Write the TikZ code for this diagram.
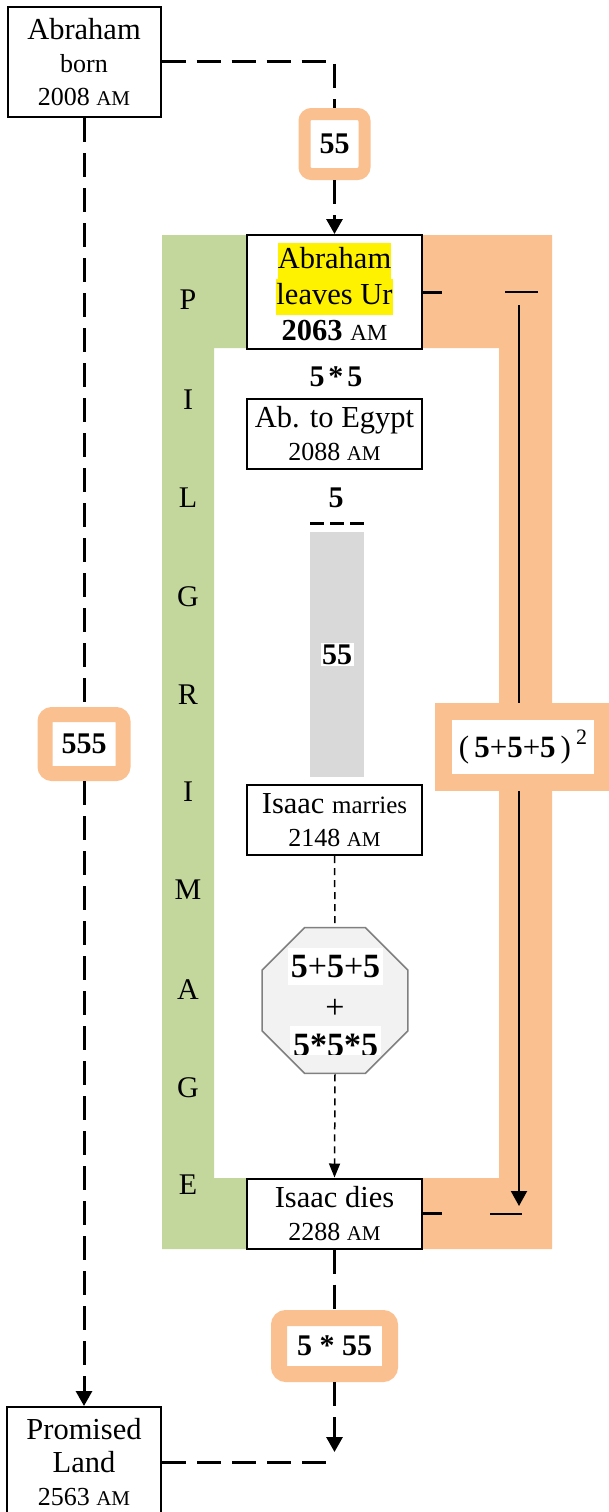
\documentclass[tikz,border=0pt]{standalone}
\usepackage{fontspec}
\setmainfont{Liberation Serif}
\usetikzlibrary{arrows.meta,shapes.geometric}
\definecolor{pgreen}{HTML}{C3D69B}
\definecolor{porange}{HTML}{FAC090}
\definecolor{pgrey}{HTML}{D9D9D9}
\definecolor{octfill}{HTML}{F2F2F2}
\definecolor{octline}{HTML}{808080}
\newcommand\amsc{{\fontsize{21}{21}\selectfont AM}}
\newcommand\subl[1]{{\fontsize{26}{26}\selectfont #1}}
\newcommand\hlyel[1]{{\setlength{\fboxsep}{0pt}\colorbox{yellow}{\strut #1}}}
\begin{document}
\begin{tikzpicture}[x=1pt,y=-1pt,
  evbox/.style={draw, line width=2pt, fill=white, inner sep=0pt, minimum width=175pt, minimum height=70pt, align=center, font=\fontsize{30.5}{33}\selectfont},
  lbl/.style={font=\fontsize{30}{33}\selectfont\bfseries, inner sep=0pt},
  obox/.style={draw=porange, line width=#1, fill=white, rounded corners=7pt, inner sep=0pt, font=\fontsize{30}{33}\selectfont\bfseries},
  thickdash/.style={line width=3pt, dash pattern=on 24pt off 11pt},
  thindash/.style={line width=1.5pt, dash pattern=on 7pt off 5pt},
  bigtip/.style={-{Triangle[width=16pt,length=15pt]}},
  smalltip/.style={-{Triangle[width=11pt,length=14pt]}},
  letter/.style={font=\fontsize{30}{33}\selectfont, inner sep=0pt},
]
\useasboundingbox (0,0) rectangle (608,1512);
% colour bands
\fill[pgreen] (162,235) -- (247,235) -- (247,348) -- (214,348) -- (214,1178) -- (247,1178) -- (247,1249) -- (162,1249) -- cycle;
\fill[porange] (422,235) -- (552,235) -- (552,1249) -- (422,1249) -- (422,1178) -- (499,1178) -- (499,348) -- (422,348) -- cycle;
% PILGRIMAGE
\foreach \t/\yy [count=\i] in {P/300, I/400, L/498, G/597, R/695, I/792, M/890, A/990, G/1088, E/1185}
  \node[letter] (let\i) at (188,\yy) {\t};
% event boxes
\node[evbox, minimum width=153pt, minimum height=110pt] (born) at (84,62) {Abraham\\\subl{born}\\\subl{2008 \amsc}};
\node[evbox, minimum height=114pt, font=\fontsize{30.5}{36}\selectfont] (ur) at (334.5,292) {\hlyel{Abraham}\\\hlyel{leaves Ur}\\\textbf{2063} {\fontsize{23}{23}\selectfont AM}};
\node[evbox] (egypt) at (334.5,434) {Ab. to Egypt\\\subl{2088 \amsc}};
\node[evbox] (marries) at (334.5,820) {Isaac {\fontsize{25}{25}\selectfont marries}\\\subl{2148 \amsc}};
\node[evbox] (dies) at (334.5,1213.5) {Isaac dies\\\subl{2288 \amsc}};
\node[evbox, minimum width=154pt, minimum height=110pt] (land) at (84,1462) {Promised\\Land\\\subl{2563 \amsc}};
% labels between boxes
\node[lbl] (m25) at (336,377) {5\kern4pt*\kern4pt5};
\node[lbl] (m5) at (336,498) {5};
\coordinate (dl) at (310,523);
\coordinate (dr) at (366,523);
\draw[line width=3pt, dash pattern=on 14pt off 6pt] (dl) -- (dr);
\node[fill=pgrey, minimum width=54pt, minimum height=245pt, inner sep=0pt, font=\fontsize{30}{33}\selectfont\bfseries] (grey) at (337,654.5) {{\setlength{\fboxsep}{1.5pt}\colorbox{white}{55}}};
% octagon
\node[regular polygon, regular polygon sides=8, minimum size=158pt, inner sep=0pt, draw=octline, line width=1.5pt, fill=octfill] (oct) at (335,1000.5) {};
\node[font=\fontsize{34}{34}\selectfont, fill=white, inner xsep=3pt, inner ysep=0pt, minimum height=37pt] (o1) at (335.5,966.5) {\textbf{5}+\textbf{5}+\textbf{5}};
\node[font=\fontsize{34}{34}\selectfont, inner sep=0pt] (o2) at (335,1009) {+};
\begin{scope}
  \clip (285,1026) rectangle (386,1054);
  \node[font=\fontsize{34}{34}\selectfont\bfseries, fill=white, inner xsep=3pt, inner ysep=0pt, minimum height=40pt] (o3) at (335.5,1045) {5*5*5};
\end{scope}
% orange label boxes
\node[obox=12pt, minimum width=60pt, minimum height=60pt] (b55) at (334.5,144) {55};
\node[obox=15pt, minimum width=78pt, minimum height=59pt] (b555) at (84,744) {555};
\node[obox=16pt, minimum width=111pt, minimum height=56pt] (b5x55) at (334.5,1346) {5 * 55};
\node[draw=porange, line width=17pt, fill=white, minimum width=159.5pt, minimum height=71pt, inner sep=0pt, font=\fontsize{31}{33}\selectfont] (sq) at (523,747) {(\kern5pt\textbf{5}+\textbf{5}+\textbf{5}\kern5pt)\kern5pt\raisebox{13pt}{\fontsize{22}{22}\selectfont 2}};
% thick dashed connectors
\draw[thickdash] (born.east) -- (born.east -| b55) -- (b55.north);
\draw[thickdash, bigtip] (b55.south) -- (ur.north);
\draw[thickdash] (born.south) -- (b555.north);
\draw[thickdash, bigtip] (b555.south) -- (land.north);
\draw[thickdash] (dies.south) -- (b5x55.north);
\coordinate (tipA) at (334.5,1452);
\draw[thickdash, bigtip] (b5x55.south) -- (tipA);
\draw[thickdash] (land.east) -- (land.east -| b5x55);
% thin dashed connectors
\draw[thindash] (marries.south) -- (oct.north);
\draw[thindash, smalltip] (oct.south) -- (dies.north);
% right-hand connector pieces
\coordinate (rtop) at (519,305);
\coordinate (rbot) at (519,1206);
\coordinate (ta) at (505,292);
\coordinate (tb) at (538,292);
\coordinate (ba) at (490,1214);
\coordinate (bb) at (522,1214);
\draw[line width=3pt] (ur.east) -- ++(19,0);
\draw[line width=2pt] (ta) -- (tb);
\draw[line width=2pt] (rtop) -- (rtop |- sq.north);
\draw[line width=2pt, -{Triangle[width=16pt,length=15pt]}] (rtop |- sq.south) -- (rbot);
\draw[line width=3pt] (dies.east) -- ++(19,0);
\draw[line width=2pt] (ba) -- (bb);
\end{tikzpicture}
\end{document}
